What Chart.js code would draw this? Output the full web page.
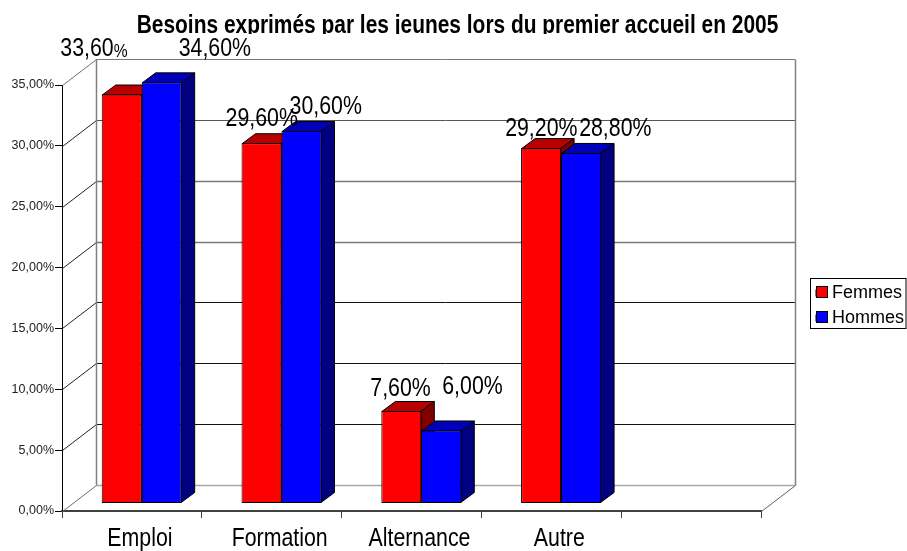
<!DOCTYPE html>
<html><head><meta charset="utf-8">
<style>html,body{margin:0;padding:0;background:#fff}canvas{display:block}</style>
<script src="https://cdn.jsdelivr.net/npm/chart.js@4"></script>
</head><body><canvas id="c" width="907" height="551"></canvas>
<script>
const categories = ['Emploi','Formation','Alternance','Autre',''];
const femmes = [33.6,29.6,7.6,29.2,null];
const hommes = [34.6,30.6,6.0,28.8,null];
const seriesNames = ['Femmes','Hommes'];
const yTickStep = 5;
const yMax = 35;
const chartTitle = 'Besoins exprimés par les jeunes lors du premier accueil en 2005';

const WALL = {dx:34, dy:-26}, BAR = {dx:9.8, dy:-7.5}, FACE = {dx:13.5, dy:-10};
const SANS = '"Liberation Sans",Arial,sans-serif';
const NARROW_K = 0.82;
const labelNudge = [
  [[-18,-53],[10,-31.5],[9,-30],[10,-27]],
  [[63,-41],[34,-31.5],[41,-51],[44,-32]]
];
const faceCols = [{top:'#b80000',side:'#800000'},{top:'#0000b8',side:'#000080'}];
const fmt = v => v.toFixed(2).replace('.',',') + '%';

const canvas = document.getElementById('c');
const ctx0 = canvas.getContext('2d');
// The source uses a condensed face: large texts are squeezed horizontally.
const rawFill = ctx0.fillText.bind(ctx0);
ctx0.fillText = function(s,x,y,mw){
  if(/(^|\s)(19|25\.5|26)px/.test(ctx0.font)){
    ctx0.save(); ctx0.translate(x,y); ctx0.scale(NARROW_K,1);
    if(mw===undefined) rawFill(s,0,0); else rawFill(s,0,0,mw/NARROW_K);
    ctx0.restore();
  } else if(mw===undefined) rawFill(s,x,y); else rawFill(s,x,y,mw);
};

function poly(ctx, pts, fill){
  ctx.beginPath();
  pts.forEach((p,i)=> i?ctx.lineTo(p[0],p[1]):ctx.moveTo(p[0],p[1]));
  ctx.closePath();
  ctx.fillStyle=fill; ctx.fill();
  ctx.strokeStyle='#000'; ctx.lineWidth=1; ctx.stroke();
}
function line(ctx,x1,y1,x2,y2,col,w){
  ctx.beginPath();ctx.moveTo(x1,y1);ctx.lineTo(x2,y2);ctx.strokeStyle=col;ctx.lineWidth=w||1;ctx.stroke();
}

const scene = {
  id:'scene',
  afterLayout(chart){
    const t = chart.titleBlock; t.left=0; t.right=915;
    const l = chart.legend; const p=l.options.labels.padding;
    l.left=816-p; l.right=l.left+95; l.top=284-p; l.bottom=l.top+70;
  },
  beforeDatasetsDraw(chart){
    const {ctx,scales:{x,y}} = chart;
    const L=x.left,R=x.right;
    ctx.save();
    // hides the bottom of the title, as in the source picture
    ctx.fillStyle='#fff'; ctx.fillRect(0,34,907,4);
    y.ticks.forEach(t=>{
      const py=Math.round(y.getPixelForValue(t.value))+.5;
      const v=t.value;
      const col = v===0 ? '#a8a8a8' : v===30 ? '#555' : (v>=20 ? '#777' : '#111');
      line(ctx,L+.5,py,L+WALL.dx+.5,py+WALL.dy,v===0||v===yMax?'#707070':'#222');
      line(ctx,L+WALL.dx,py+WALL.dy,R+WALL.dx,py+WALL.dy,col,(v===0||v===20||v===25)?1.5:1);
    });
    const yTop=Math.round(y.getPixelForValue(yMax))+.5+WALL.dy, yBot=Math.round(y.getPixelForValue(0))+.5+WALL.dy;
    line(ctx,L+WALL.dx+.5,yTop,L+WALL.dx+.5,yBot,'#808080',1.5);
    line(ctx,R+WALL.dx+.5,yTop,R+WALL.dx+.5,yBot,'#808080',1.5);
    line(ctx,R+.5,yBot-WALL.dy,R+WALL.dx+.5,yBot,'#606060');
    // depth faces of the bars
    ctx.translate(BAR.dx,BAR.dy);
    chart.data.datasets.forEach((ds,di)=>{
      chart.getDatasetMeta(di).data.forEach((b,i)=>{
        if(ds.data[i]==null) return;
        const l=b.x-b.width/2+.5, r=b.x+b.width/2-.5, t=b.y+.5, bt=b.base-.5;
        poly(ctx,[[l,t],[l+FACE.dx,t+FACE.dy],[r+FACE.dx,t+FACE.dy],[r,t]],faceCols[di].top);
        poly(ctx,[[r,t],[r+FACE.dx,t+FACE.dy],[r+FACE.dx,bt+FACE.dy],[r,bt]],faceCols[di].side);
      });
    });
    ctx.restore();
    ctx.save();
    ctx.translate(BAR.dx,BAR.dy);
  },
  afterDatasetsDraw(chart){
    const ctx=chart.ctx;
    ctx.restore();
    ctx.save();
    ctx.textBaseline='middle'; ctx.textAlign='left'; ctx.fillStyle='#000';
    chart.data.datasets.forEach((ds,di)=>{
      chart.getDatasetMeta(di).data.forEach((b,i)=>{
        if(ds.data[i]==null) return;
        const [nx,ny]=labelNudge[di][i];
        const cx=b.x+nx, cy=b.y+ny;
        const s=fmt(ds.data[i]);
        ctx.font='26px '+SANS;
        if(di===0 && i===0){
          // the first label has a smaller percent sign in the source
          const head=s.slice(0,-1), w1=ctx.measureText(head).width*NARROW_K;
          ctx.font='19px '+SANS;
          const w2=ctx.measureText('%').width*NARROW_K;
          const x0=cx-(w1+w2)/2;
          ctx.fillText('%',x0+w1,cy+3);
          ctx.font='26px '+SANS;
          ctx.fillText(head,x0,cy);
        } else {
          ctx.fillText(s,cx-ctx.measureText(s).width*NARROW_K/2,cy);
        }
      });
    });
    ctx.restore();
  },
  afterDraw(chart){
    const ctx=chart.ctx, l=chart.legend;
    ctx.save();
    ctx.strokeStyle='#000'; ctx.lineWidth=1;
    ctx.strokeRect(810.5,278.5,95.5,50);
    l.legendItems.forEach((it,i)=>{
      ctx.fillStyle=it.fillStyle;
      ctx.fillRect(816.5,286.5+i*25,11,11);
      ctx.strokeRect(816.5,286.5+i*25,11,11);
    });
    ctx.restore();
  }
};

new Chart(canvas,{
  type:'bar',
  data:{labels:categories,datasets:[
    {label:seriesNames[0],data:femmes,backgroundColor:'#ff0000',borderColor:'#000',borderWidth:1,borderSkipped:false},
    {label:seriesNames[1],data:hommes,backgroundColor:'#0000ff',borderColor:'#000',borderWidth:1,borderSkipped:false}
  ]},
  options:{
    responsive:false,animation:false,
    clip:false,
    datasets:{bar:{barPercentage:1,categoryPercentage:.572}},
    layout:{padding:{left:0,right:146,top:0,bottom:0}},
    plugins:{
      tooltip:{enabled:false},
      title:{display:true,text:chartTitle,color:'#000',
        font:{family:SANS,size:25.5,weight:'bold',lineHeight:1.2},padding:{top:10.5,bottom:43.9}},
      legend:{position:'chartArea',align:'start',
        labels:{boxWidth:7,boxHeight:7,padding:7,color:'#000',font:{family:SANS,size:18}}}
    },
    scales:{
      x:{afterFit(s){s.height=40},
        border:{color:'#404040',width:2},
        grid:{drawOnChartArea:false,offset:true,tickLength:7,tickColor:'#404040'},
        ticks:{autoSkip:false,maxRotation:0,color:'#000',padding:5,labelOffset:8,font:{family:SANS,size:26}}},
      y:{min:0,max:yMax,afterFit(s){s.width=62},
        border:{color:'#000',width:1},
        grid:{drawOnChartArea:false,tickLength:7,tickColor:'#000'},
        ticks:{stepSize:yTickStep,padding:1,color:'#222',font:{family:SANS,size:12.5},callback:v=>fmt(v)}}
    }
  },
  plugins:[scene]
});
</script></body></html>
